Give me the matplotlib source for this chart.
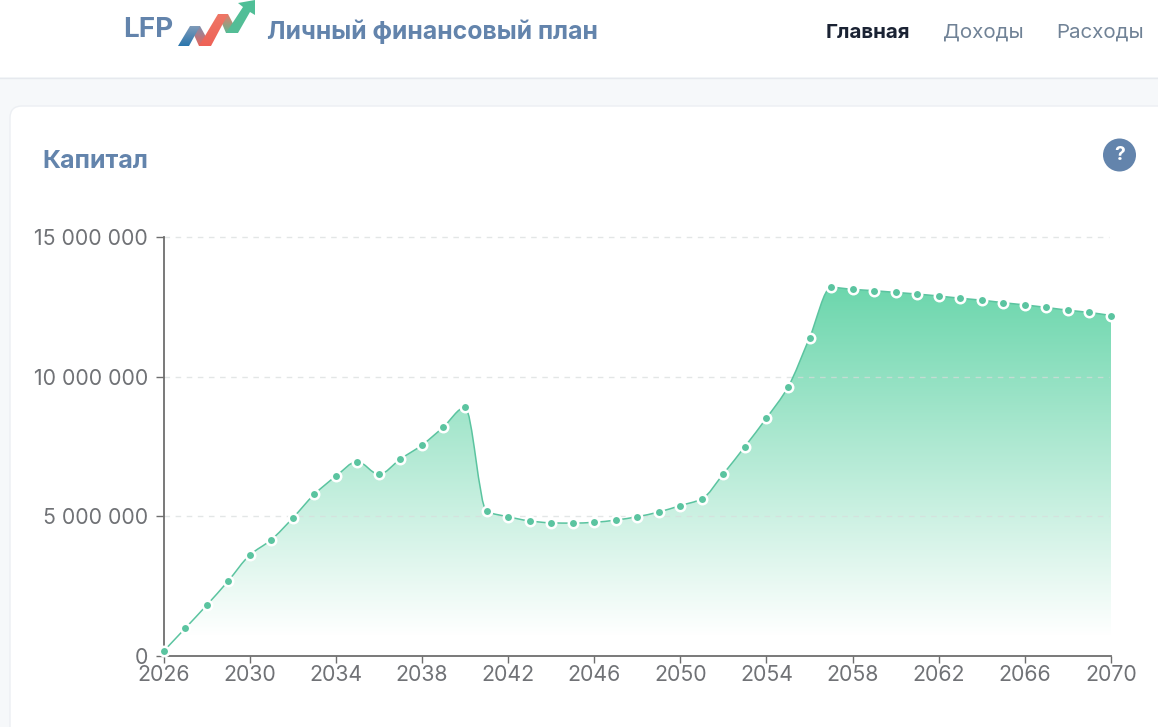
import numpy as np
import matplotlib
matplotlib.use('Agg')
import matplotlib.pyplot as plt
from matplotlib.path import Path
from matplotlib.patches import PathPatch, FancyBboxPatch, Circle, Polygon
from matplotlib.colors import LinearSegmentedColormap
from matplotlib.ticker import FuncFormatter

plt.rcParams['font.family'] = ['Inter', 'DejaVu Sans']

years = list(range(2026, 2071))
capital = [150000, 970000, 1800000, 2670000, 3600000, 4150000, 4930000, 5780000,
           6430000, 6960000, 6500000, 7050000, 7550000, 8200000, 8900000, 5180000,
           4980000, 4830000, 4760000, 4750000, 4780000, 4860000, 4980000, 5150000,
           5380000, 5620000, 6520000, 7500000, 8520000, 9630000, 11400000, 13210000,
           13140000, 13090000, 13030000, 12970000, 12900000, 12820000, 12750000,
           12660000, 12580000, 12490000, 12390000, 12310000, 12200000]
y_ticks = [0, 5000000, 10000000, 15000000]
x_ticks = list(range(2026, 2071, 4))

W, H = 1158, 727
GREEN = '#5bc4a0'
GREY = '#707276'
BLUE = '#6384ac'


def smooth_path(x, y):
    # monotone cubic through the points, as bezier segments
    x = np.asarray(x, float)
    y = np.asarray(y, float)
    d = np.diff(y) / np.diff(x)
    m = np.zeros(len(x))
    m[0], m[-1] = d[0], d[-1]
    for i in range(1, len(x) - 1):
        if d[i - 1] * d[i] > 0:
            m[i] = 2 * d[i - 1] * d[i] / (d[i - 1] + d[i])
    verts = [(x[0], y[0])]
    codes = [Path.MOVETO]
    for i in range(len(x) - 1):
        h = (x[i + 1] - x[i]) / 3
        verts += [(x[i] + h, y[i] + m[i] * h), (x[i + 1] - h, y[i + 1] - m[i + 1] * h), (x[i + 1], y[i + 1])]
        codes += [Path.CURVE4] * 3
    return verts, codes


def ribbon(axis, pts, top_col, bottom_col, z):
    # one piece of the logo, vertical colour fade clipped to the polygon
    xs = [p[0] for p in pts]
    ys = [p[1] for p in pts]
    cm = LinearSegmentedColormap.from_list('r', [top_col, bottom_col])
    im = axis.imshow(np.linspace(0, 1, 64).reshape(-1, 1), cmap=cm, aspect='auto',
                     extent=(min(xs), max(xs), max(ys), min(ys)), zorder=z)
    im.set_clip_path(Polygon(pts, transform=axis.transData))


fig = plt.figure(figsize=(W / 100, H / 100), dpi=100, facecolor='#f6f8fa')

# page chrome, in pixels
bg = fig.add_axes([0, 0, 1, 1])
bg.axis('off')
bg.fill_between([0, W], 0, 77, color='white', lw=0)
bg.plot([0, W], [77.5, 77.5], color='#e6e9ee', lw=1)
bg.add_patch(FancyBboxPatch((10, 106), W + 40, H, boxstyle='round,pad=0,rounding_size=12',
                            fc='white', ec='#eceff3', lw=1))

bg.text(123, 30, 'LFP', fontsize=20, fontweight='bold', color=BLUE, ha='left', va='center')
bg.text(267, 31.5, 'Личный финансовый план', fontsize=17.85, fontweight='bold', color=BLUE, ha='left', va='center')
bg.text(826, 32.5, 'Главная', fontsize=14.8, fontweight='bold', color='#1a2233', ha='left', va='center')
bg.text(943, 32.5, 'Доходы', fontsize=14.8, color='#708296', ha='left', va='center')
bg.text(1056, 32.5, 'Расходы', fontsize=14.8, color='#708296', ha='left', va='center')
bg.text(42, 161.5, 'Капитал', fontsize=18, fontweight='bold', color=BLUE, ha='left', va='center')

bg.add_patch(Circle((1119.5, 155), 16.5, fc=BLUE, ec='none'))
bg.text(1119.5, 154.5, '?', fontsize=14, fontweight='bold', color='white', ha='center', va='center')

# logo ribbon
ribbon(bg, [(190, 26), (200, 26), (211, 46), (199, 46)], '#7d8fae', '#e8655a', 2)
ribbon(bg, [(178, 46), (189, 46), (200, 26), (190, 26)], '#7f9ab8', '#2a76ad', 3)
ribbon(bg, [(218, 14), (228, 14), (238, 33), (226, 33)], '#e87a68', '#5fb893', 2)
ribbon(bg, [(199, 46), (211, 46), (228, 14), (218, 14)], '#ee7766', '#ee6257', 3)
ribbon(bg, [(226, 33), (238, 33), (250, 12), (255, 15), (255, 0), (238, 3), (243, 7)], '#4fc098', '#55bd96', 3)
bg.set_xlim(0, W)
bg.set_ylim(H, 0)

# chart
left, right, top, bottom = 163.5, 1111, 237.5, 655.5
ax = fig.add_axes([left / W, 1 - bottom / H, (right - left) / W, (bottom - top) / H])
ax.patch.set_alpha(0)

verts, codes = smooth_path(years, capital)
area = Path(verts + [(years[-1], 0), (years[0], 0), (years[0], capital[0])],
            codes + [Path.LINETO, Path.LINETO, Path.CLOSEPOLY])

cmap = LinearSegmentedColormap.from_list('fade', ['#ffffff', '#6bd6ac'])
grad = ax.imshow(np.linspace(1, 0, 256).reshape(-1, 1), cmap=cmap, vmin=0, vmax=1, aspect='auto',
                 extent=(years[0], years[-1], 700000, 13300000), zorder=1)
grad.set_clip_path(PathPatch(area, transform=ax.transData))
ax.set_xlim(years[0], years[-1])
ax.set_ylim(0, 15000000)

for v in y_ticks[1:]:
    ax.plot([years[0], 2069.9], [v, v], color='#d8dcdc', lw=1, dashes=(4, 4), alpha=0.7, zorder=2, clip_on=False)

ax.add_patch(PathPatch(Path(verts, codes), fc='none', ec=GREEN, lw=1.1, zorder=3))
ax.plot(years, capital, ls='none', marker='o', ms=6.8, mfc=GREEN, mec='white', mew=1.8, zorder=4, clip_on=False)

for s in ['top', 'right']:
    ax.spines[s].set_visible(False)
for s in ['left', 'bottom']:
    ax.spines[s].set_color('#6e6e6e')
    ax.spines[s].set_linewidth(1.3)
ax.spines['left'].set_zorder(2.5)

ax.set_yticks(y_ticks)
ax.set_xticks(x_ticks)
ax.yaxis.set_major_formatter(FuncFormatter(lambda v, p: f'{int(v):,}'.replace(',', ' ')))
ax.tick_params(axis='y', length=6, width=1, color='#6e6e6e', labelcolor=GREY, labelsize=15.3, pad=5)
ax.tick_params(axis='x', length=5, width=1, color='#6e6e6e', labelcolor=GREY, labelsize=15.3, pad=2)

fig.savefig('out.png', dpi=100, facecolor=fig.get_facecolor())
